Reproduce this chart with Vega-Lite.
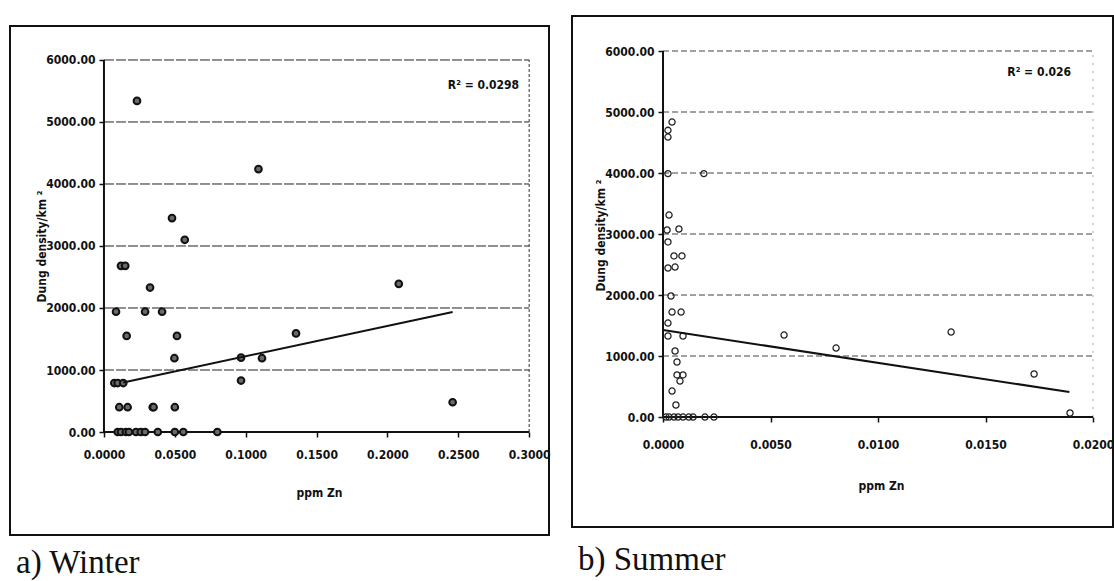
{
  "$schema": "https://vega.github.io/schema/vega-lite/v6.json",
  "background": "white",
  "padding": {"left": 9, "top": 13, "right": 0, "bottom": 0},
  "config": {
    "font": "Liberation Sans",
    "concat": {"spacing": 20},
    "axis": {
      "labelFont": "DejaVu Sans Condensed, Liberation Sans",
      "labelFontSize": 12,
      "labelFontWeight": "bold",
      "labelColor": "#111",
      "titleFont": "DejaVu Sans Condensed, Liberation Sans",
      "titleFontSize": 12,
      "titleFontWeight": "bold",
      "titleColor": "#111",
      "tickColor": "#111",
      "tickWidth": 1.5,
      "tickSize": 5,
      "grid": false,
      "domain": false
    },
    "title": {"font": "Liberation Serif", "fontSize": 33, "fontWeight": "normal", "color": "#111"}
  },
  "datasets": {
    "grid": [{"g": 1000}, {"g": 2000}, {"g": 3000}, {"g": 4000}, {"g": 5000}, {"g": 6000}],
    "winter": [
      {"zn": 0.0097, "dung": 0}, {"zn": 0.012, "dung": 0}, {"zn": 0.0155, "dung": 0}, {"zn": 0.0176, "dung": 0},
      {"zn": 0.0226, "dung": 0}, {"zn": 0.026, "dung": 0}, {"zn": 0.029, "dung": 0}, {"zn": 0.038, "dung": 0},
      {"zn": 0.05, "dung": 0}, {"zn": 0.056, "dung": 0}, {"zn": 0.08, "dung": 0},
      {"zn": 0.0108, "dung": 400}, {"zn": 0.0167, "dung": 400}, {"zn": 0.0344, "dung": 400}, {"zn": 0.035, "dung": 400}, {"zn": 0.05, "dung": 400},
      {"zn": 0.0073, "dung": 790}, {"zn": 0.0097, "dung": 790}, {"zn": 0.0136, "dung": 790},
      {"zn": 0.0967, "dung": 830},
      {"zn": 0.0497, "dung": 1190}, {"zn": 0.0967, "dung": 1200}, {"zn": 0.1115, "dung": 1190},
      {"zn": 0.016, "dung": 1550}, {"zn": 0.0515, "dung": 1550},
      {"zn": 0.1355, "dung": 1590},
      {"zn": 0.0085, "dung": 1940}, {"zn": 0.029, "dung": 1940}, {"zn": 0.041, "dung": 1940},
      {"zn": 0.0325, "dung": 2330},
      {"zn": 0.012, "dung": 2680}, {"zn": 0.015, "dung": 2680},
      {"zn": 0.057, "dung": 3100},
      {"zn": 0.048, "dung": 3450},
      {"zn": 0.109, "dung": 4240},
      {"zn": 0.0233, "dung": 5340},
      {"zn": 0.208, "dung": 2390},
      {"zn": 0.246, "dung": 480}
    ],
    "winterTrend": [{"zn": 0.0136, "dung": 800}, {"zn": 0.246, "dung": 1935}],
    "summer": [
      {"zn": 0.00042, "dung": 4836}, {"zn": 0.00023, "dung": 4700}, {"zn": 0.00023, "dung": 4590},
      {"zn": 0.00023, "dung": 3990}, {"zn": 0.0019, "dung": 3990},
      {"zn": 0.00028, "dung": 3311}, {"zn": 0.00019, "dung": 3066}, {"zn": 0.00074, "dung": 3082},
      {"zn": 0.00023, "dung": 2870}, {"zn": 0.00051, "dung": 2640}, {"zn": 0.00088, "dung": 2640},
      {"zn": 0.00023, "dung": 2443}, {"zn": 0.00056, "dung": 2459},
      {"zn": 0.00037, "dung": 1984}, {"zn": 0.00042, "dung": 1721}, {"zn": 0.00084, "dung": 1721},
      {"zn": 0.00023, "dung": 1541}, {"zn": 0.00023, "dung": 1328}, {"zn": 0.00093, "dung": 1328},
      {"zn": 0.00056, "dung": 1082}, {"zn": 0.00065, "dung": 902},
      {"zn": 0.00065, "dung": 690}, {"zn": 0.00093, "dung": 690}, {"zn": 0.00079, "dung": 590},
      {"zn": 0.00042, "dung": 426}, {"zn": 0.0006, "dung": 197},
      {"zn": 0.00014, "dung": 0}, {"zn": 0.00028, "dung": 0}, {"zn": 0.00051, "dung": 0}, {"zn": 0.0007, "dung": 0},
      {"zn": 0.00093, "dung": 0}, {"zn": 0.0012, "dung": 0}, {"zn": 0.0014, "dung": 0}, {"zn": 0.00195, "dung": 0},
      {"zn": 0.00237, "dung": 0},
      {"zn": 0.00563, "dung": 1344}, {"zn": 0.00805, "dung": 1131}, {"zn": 0.0134, "dung": 1393},
      {"zn": 0.01726, "dung": 705}, {"zn": 0.01893, "dung": 66}
    ],
    "summerTrend": [{"zn": 0, "dung": 1426}, {"zn": 0.0189, "dung": 410}],
    "one": [{}]
  },
  "hconcat": [
    {
      "spacing": 5,
      "vconcat": [
        {
          "width": 539,
          "height": 1,
          "view": {"stroke": null},
          "data": {"name": "one"},
          "mark": {"type": "point", "opacity": 0},
          "encoding": {}
        },
        {
          "width": 539,
          "height": 509,
          "view": {"stroke": "#111", "strokeWidth": 2},
          "title": {"text": "a) Winter", "orient": "bottom", "anchor": "start", "offset": 12, "dx": 6},
          "layer": [
            {
              "data": {"name": "grid"},
              "mark": {"type": "rule", "stroke": "#222", "strokeWidth": 1, "strokeDash": [10, 2]},
              "encoding": {
                "x": {"datum": 0, "type": "quantitative", "scale": {"domain": [-0.0663, 0.314], "nice": false, "zero": false}},
                "x2": {"datum": 0.3},
                "y": {"field": "g", "type": "quantitative", "scale": {"domain": [-1661, 6548], "nice": false, "zero": false}}
              }
            },
            {
              "data": {"name": "one"},
              "mark": {"type": "rule", "stroke": "#333", "strokeWidth": 1, "strokeDash": [3, 2]},
              "encoding": {
                "x": {"datum": 0.3, "type": "quantitative"},
                "y": {"datum": 0, "type": "quantitative"},
                "y2": {"datum": 6000}
              }
            },
            {
              "data": {"name": "one"},
              "mark": {"type": "rule", "stroke": "#111", "strokeWidth": 2},
              "encoding": {
                "x": {"datum": 0, "type": "quantitative"},
                "x2": {"datum": 0.3},
                "y": {"datum": 0, "type": "quantitative"}
              }
            },
            {
              "data": {"name": "one"},
              "mark": {"type": "rule", "stroke": "#111", "strokeWidth": 2},
              "encoding": {
                "x": {"datum": 0, "type": "quantitative"},
                "y": {"datum": 0, "type": "quantitative"},
                "y2": {"datum": 6000}
              }
            },
            {
              "data": {"name": "winter"},
              "mark": {"type": "point", "shape": "circle", "filled": true, "fill": "#6a6a6a", "stroke": "#111", "strokeWidth": 2, "size": 45, "opacity": 1},
              "encoding": {
                "x": {
                  "field": "zn", "type": "quantitative",
                  "axis": {"values": [0, 0.05, 0.1, 0.15, 0.2, 0.25, 0.3], "format": ".4f", "offset": -103, "labelPadding": 12,
                           "title": "ppm Zn", "titleX": 309, "titleY": 55, "titleBaseline": "top", "titleAlign": "center"}
                },
                "y": {
                  "field": "dung", "type": "quantitative",
                  "axis": {"values": [0, 1000, 2000, 3000, 4000, 5000, 6000], "format": ".2f", "offset": -94, "labelPadding": 4,
                           "title": "Dung density/km ²", "titleX": -63, "titleY": 220, "titleAngle": -90, "titleAlign": "center", "titleBaseline": "middle"}
                }
              }
            },
            {
              "data": {"name": "winterTrend"},
              "mark": {"type": "line", "stroke": "#111", "strokeWidth": 2},
              "encoding": {
                "x": {"field": "zn", "type": "quantitative"},
                "y": {"field": "dung", "type": "quantitative"}
              }
            },
            {
              "data": {"name": "one"},
              "mark": {"type": "text", "text": "R² = 0.0298", "align": "right", "baseline": "middle", "font": "DejaVu Sans Condensed, Liberation Sans", "fontSize": 12, "fontWeight": "bold", "color": "#111"},
              "encoding": {
                "x": {"datum": 0.2929, "type": "quantitative"},
                "y": {"datum": 5600, "type": "quantitative"}
              }
            }
          ]
        }
      ]
    },
    {
      "width": 541,
      "height": 511,
      "view": {"stroke": "#111", "strokeWidth": 2},
      "title": {"text": "b) Summer", "orient": "bottom", "anchor": "start", "offset": 17, "dx": 6},
      "layer": [
        {
          "data": {"name": "grid"},
          "mark": {"type": "rule", "stroke": "#444", "strokeWidth": 1, "strokeDash": [6, 3]},
          "encoding": {
            "x": {"datum": 0, "type": "quantitative", "scale": {"domain": [-0.004233, 0.02093], "nice": false, "zero": false}},
            "x2": {"datum": 0.02},
            "y": {"field": "g", "type": "quantitative", "scale": {"domain": [-1803, 6574], "nice": false, "zero": false}}
          }
        },
        {
          "data": {"name": "one"},
          "mark": {"type": "rule", "stroke": "#aaa", "strokeWidth": 1, "strokeDash": [2, 6]},
          "encoding": {
            "x": {"datum": 0.02, "type": "quantitative"},
            "y": {"datum": 0, "type": "quantitative"},
            "y2": {"datum": 6000}
          }
        },
        {
          "data": {"name": "one"},
          "mark": {"type": "rule", "stroke": "#111", "strokeWidth": 2},
          "encoding": {
            "x": {"datum": 0, "type": "quantitative"},
            "x2": {"datum": 0.02},
            "y": {"datum": 0, "type": "quantitative"}
          }
        },
        {
          "data": {"name": "one"},
          "mark": {"type": "rule", "stroke": "#111", "strokeWidth": 2},
          "encoding": {
            "x": {"datum": 0, "type": "quantitative"},
            "y": {"datum": 0, "type": "quantitative"},
            "y2": {"datum": 6000}
          }
        },
        {
          "data": {"name": "summer"},
          "mark": {"type": "point", "shape": "circle", "filled": false, "stroke": "#222", "strokeWidth": 1.3, "size": 38, "opacity": 1},
          "encoding": {
            "x": {
              "field": "zn", "type": "quantitative",
              "axis": {"values": [0, 0.005, 0.01, 0.015, 0.02], "format": ".4f", "offset": -110, "labelPadding": 17,
                       "title": "ppm Zn", "titleX": 309, "titleY": 63, "titleBaseline": "top", "titleAlign": "center"}
            },
            "y": {
              "field": "dung", "type": "quantitative",
              "axis": {"values": [0, 1000, 2000, 3000, 4000, 5000, 6000], "format": ".2f", "offset": -91, "labelPadding": 4,
                       "title": "Dung density/km ²", "titleX": -63, "titleY": 219, "titleAngle": -90, "titleAlign": "center", "titleBaseline": "middle"}
            }
          }
        },
        {
          "data": {"name": "summerTrend"},
          "mark": {"type": "line", "stroke": "#111", "strokeWidth": 2},
          "encoding": {
            "x": {"field": "zn", "type": "quantitative"},
            "y": {"field": "dung", "type": "quantitative"}
          }
        },
        {
          "data": {"name": "one"},
          "mark": {"type": "text", "text": "R² = 0.026", "align": "right", "baseline": "middle", "font": "DejaVu Sans Condensed, Liberation Sans", "fontSize": 12, "fontWeight": "bold", "color": "#111"},
          "encoding": {
            "x": {"datum": 0.01898, "type": "quantitative"},
            "y": {"datum": 5656, "type": "quantitative"}
          }
        }
      ]
    }
  ]
}
